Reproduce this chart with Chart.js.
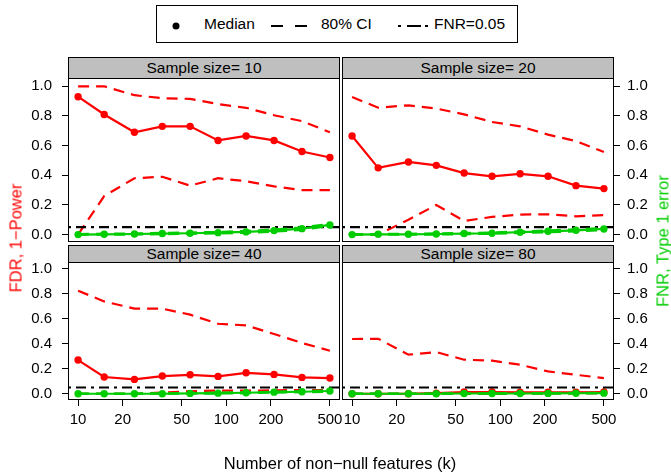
<!DOCTYPE html>
<html>
<head>
<meta charset="utf-8">
<script src="https://cdn.jsdelivr.net/npm/chart.js@4.4.1/dist/chart.umd.min.js"></script>
<style>
  body { margin: 0; background: #fff; }
  #page { position: relative; width: 671px; height: 472px; overflow: hidden;
          font-family: "Liberation Sans", Arial, sans-serif; color: #000; }
  #page canvas { position: absolute; left: 0; top: 0; }
  .strip { position: absolute; width: 272px; background: #bfbfbf; border: 1px solid #000;
           box-sizing: border-box; text-align: center; font-size: 15.5px; }
  .title { position: absolute; white-space: nowrap; font-size: 16.5px;
           transform: translate(-50%, -50%); }
  .rot { transform: translate(-50%, -50%) rotate(-90deg); }
  #legend { position: absolute; left: 156px; top: 5px; width: 362px; height: 38px;
            border: 1px solid #000; box-sizing: border-box; background: #fff; }
  #legend span { position: absolute; top: 9px; font-size: 15.5px; line-height: 18px; }
  #legend svg { position: absolute; left: 0; top: 0; }
</style>
</head>
<body>
<div id="page">
  <canvas id="c10" width="671" height="472"></canvas>
  <canvas id="c20" width="671" height="472"></canvas>
  <canvas id="c40" width="671" height="472"></canvas>
  <canvas id="c80" width="671" height="472"></canvas>

  <div class="strip" style="left:68px; top:57px; height:22px; line-height:20px;">Sample size= 10</div>
  <div class="strip" style="left:342px; top:57px; height:22px; line-height:20px;">Sample size= 20</div>
  <div class="strip" style="left:68px; top:245px; height:18px; line-height:16px;">Sample size= 40</div>
  <div class="strip" style="left:342px; top:245px; height:18px; line-height:16px;">Sample size= 80</div>

  <div id="legend">
    <svg width="362" height="38">
      <circle cx="19" cy="20" r="3.5" fill="#000"></circle>
      <line x1="114" y1="20" x2="151" y2="20" stroke="#000" stroke-width="2" stroke-dasharray="12 12"></line>
      <line x1="241" y1="20" x2="271" y2="20" stroke="#000" stroke-width="2" stroke-dasharray="3 6 14 4 3 100"></line>
    </svg>
    <span style="left:47px;">Median</span>
    <span style="left:164px;">80% CI</span>
    <span style="left:277px;">FNR=0.05</span>
  </div>

  <div class="title rot" style="left:16px; top:238px; color:#ff0000;">FDR, 1−Power</div>
  <div class="title rot" style="left:663px; top:241px; color:#00cd00;">FNR, Type 1 error</div>
  <div class="title" style="left:340px; top:463px;">Number of non−null features (k)</div>
</div>

<script>
// number of non-null features on the log x axis
const kValues = [10, 15, 24, 37, 57, 88, 136, 210, 324, 500];
const xTicks = [10, 20, 50, 100, 200, 500];
const yTicks = [0, 0.2, 0.4, 0.6, 0.8, 1.0];
const fnrLevel = 0.05;

// FDR, 1-Power (red): median and 80% interval
const fdrMed10 = [0.93, 0.81, 0.69, 0.73, 0.73, 0.635, 0.665, 0.635, 0.56, 0.52];
const fdrLo10  = [0.0, 0.26, 0.38, 0.39, 0.33, 0.38, 0.36, 0.325, 0.30, 0.30];
const fdrHi10  = [1.0, 1.0, 0.94, 0.92, 0.915, 0.88, 0.855, 0.805, 0.765, 0.69];

const fdrMed20 = [0.665, 0.45, 0.49, 0.467, 0.415, 0.393, 0.41, 0.393, 0.33, 0.31];
const fdrLo20  = [0.0, 0.0, 0.1, 0.2, 0.092, 0.119, 0.135, 0.137, 0.123, 0.132];
const fdrHi20  = [0.928, 0.856, 0.872, 0.85, 0.811, 0.759, 0.73, 0.674, 0.631, 0.557];

const fdrMed40 = [0.27, 0.134, 0.115, 0.142, 0.152, 0.139, 0.168, 0.155, 0.131, 0.126];
const fdrLo40  = [0.0, 0.0, 0.0, 0.01, 0.02, 0.025, 0.025, 0.028, 0.03, 0.03];
const fdrHi40  = [0.826, 0.74, 0.682, 0.682, 0.634, 0.561, 0.548, 0.479, 0.407, 0.345];

const fdrMed80 = [0.0, 0.0, 0.0, 0.005, 0.014, 0.014, 0.012, 0.012, 0.012, 0.014];
const fdrLo80  = [0.0, 0.0, 0.0, 0.0, 0.0, 0.0, 0.0, 0.003, 0.004, 0.005];
const fdrHi80  = [0.439, 0.441, 0.313, 0.334, 0.273, 0.265, 0.233, 0.179, 0.152, 0.126];

// FNR, Type 1 error (green): median and 80% interval
const t1Med10 = [0.0, 0.002, 0.004, 0.007, 0.009, 0.013, 0.018, 0.027, 0.04, 0.065];
const t1Lo10  = [0.0, 0.0, 0.0, 0.003, 0.005, 0.008, 0.012, 0.02, 0.032, 0.058];
const t1Hi10  = [0.003, 0.006, 0.008, 0.011, 0.014, 0.018, 0.024, 0.034, 0.048, 0.072];

const t1Med20 = [0.0, 0.002, 0.002, 0.004, 0.007, 0.009, 0.016, 0.022, 0.029, 0.038];
const t1Lo20  = [0.0, 0.0, 0.0, 0.0, 0.003, 0.005, 0.011, 0.016, 0.022, 0.031];
const t1Hi20  = [0.002, 0.004, 0.005, 0.008, 0.011, 0.014, 0.021, 0.028, 0.036, 0.045];

const t1Med40 = [0.0, 0.0, 0.0, 0.0, 0.003, 0.005, 0.008, 0.013, 0.016, 0.022];
const t1Lo40  = [0.0, 0.0, 0.0, 0.0, 0.0, 0.002, 0.004, 0.009, 0.012, 0.017];
const t1Hi40  = [0.001, 0.002, 0.002, 0.003, 0.006, 0.009, 0.012, 0.017, 0.021, 0.027];

const t1Med80 = [0.0, 0.0, 0.0, 0.0, 0.002, 0.002, 0.002, 0.003, 0.004, 0.005];
const t1Lo80  = [0.0, 0.0, 0.0, 0.0, 0.0, 0.0, 0.0, 0.001, 0.002, 0.002];
const t1Hi80  = [0.001, 0.001, 0.001, 0.002, 0.004, 0.004, 0.005, 0.006, 0.007, 0.008];

const RED = '#ff0000';
const GREEN = '#00cd00';
const X_MIN = 8.55, X_MAX = 585;
const Y_MIN = -0.05, Y_MAX = 1.056;
const TICK_FONT = { family: '"Liberation Sans", Arial, sans-serif', size: 15 };

// black frame round each plot region
const panelBox = {
    id: 'panelBox',
    afterDraw(chart) {
        const { ctx, chartArea: a } = chart;
        ctx.save();
        ctx.strokeStyle = '#000';
        ctx.lineWidth = 1;
        ctx.strokeRect(a.left + 0.5, a.top + 0.5, a.right - a.left - 1, a.bottom - a.top - 1);
        ctx.restore();
    }
};

function pts(arr) {
    return kValues.map((k, i) => ({ x: k, y: arr[i] }));
}

function medianSet(arr, color) {
    return {
        data: pts(arr), borderColor: color, backgroundColor: color,
        borderWidth: 2.2, pointRadius: 3.7, pointBorderWidth: 0
    };
}

function ciSet(arr, color) {
    return {
        data: pts(arr), borderColor: color, borderWidth: 2.2,
        borderDash: [11, 7], pointRadius: 0
    };
}

function makePanel(p) {
    const yWidth = 40, xHeight = 40;
    const padding = {
        top: p.top,
        left: p.yPos === 'left' ? p.left - yWidth : p.left,
        right: p.yPos === 'right' ? 671 - p.right - yWidth : 671 - p.right,
        bottom: 472 - p.bottom - (p.showX ? xHeight : 0)
    };
    const ctx = document.getElementById(p.canvasId).getContext('2d');
    return new Chart(ctx, {
        type: 'line',
        data: {
            datasets: [
                medianSet(p.t1Med, GREEN),
                ciSet(p.t1Hi, GREEN),
                ciSet(p.t1Lo, GREEN),
                {
                    data: [{ x: X_MIN, y: fnrLevel }, { x: X_MAX, y: fnrLevel }],
                    borderColor: '#000', borderWidth: 2.2,
                    borderDash: [3, 5, 10, 5], pointRadius: 0
                },
                medianSet(p.fdrMed, RED),
                ciSet(p.fdrHi, RED),
                ciSet(p.fdrLo, RED)
            ]
        },
        options: {
            responsive: false,
            animation: false,
            events: [],
            layout: { padding: padding },
            plugins: { legend: { display: false }, tooltip: { enabled: false } },
            scales: {
                x: {
                    type: 'logarithmic',
                    min: X_MIN, max: X_MAX,
                    display: p.showX,
                    afterBuildTicks: s => { s.ticks = xTicks.map(v => ({ value: v })); },
                    afterFit: s => { s.height = p.showX ? xHeight : 0; },
                    border: { display: false },
                    grid: { drawOnChartArea: false, drawTicks: true, tickLength: 6, color: '#000' },
                    ticks: { font: TICK_FONT, color: '#000', padding: 5, maxRotation: 0, autoSkip: false,
                             callback: v => String(v) }
                },
                y: {
                    position: p.yPos,
                    min: Y_MIN, max: Y_MAX,
                    afterBuildTicks: s => { s.ticks = yTicks.map(v => ({ value: v })); },
                    afterFit: s => { s.width = yWidth; },
                    border: { display: false },
                    grid: { drawOnChartArea: false, drawTicks: true, tickLength: 6, color: '#000' },
                    ticks: { font: TICK_FONT, color: '#000', padding: p.yPos === 'left' ? 10 : 7,
                             autoSkip: false, callback: v => v.toFixed(1) }
                }
            }
        },
        plugins: [panelBox]
    });
}

const panels = [
    { canvasId: 'c10', left: 68, right: 340, top: 78, bottom: 242, yPos: 'left', showX: false,
      fdrMed: fdrMed10, fdrLo: fdrLo10, fdrHi: fdrHi10, t1Med: t1Med10, t1Lo: t1Lo10, t1Hi: t1Hi10 },
    { canvasId: 'c20', left: 342, right: 614, top: 78, bottom: 242, yPos: 'right', showX: false,
      fdrMed: fdrMed20, fdrLo: fdrLo20, fdrHi: fdrHi20, t1Med: t1Med20, t1Lo: t1Lo20, t1Hi: t1Hi20 },
    { canvasId: 'c40', left: 68, right: 340, top: 262, bottom: 400, yPos: 'left', showX: true,
      fdrMed: fdrMed40, fdrLo: fdrLo40, fdrHi: fdrHi40, t1Med: t1Med40, t1Lo: t1Lo40, t1Hi: t1Hi40 },
    { canvasId: 'c80', left: 342, right: 614, top: 262, bottom: 400, yPos: 'right', showX: true,
      fdrMed: fdrMed80, fdrLo: fdrLo80, fdrHi: fdrHi80, t1Med: t1Med80, t1Lo: t1Lo80, t1Hi: t1Hi80 }
];

panels.forEach(makePanel);
</script>
</body>
</html>
